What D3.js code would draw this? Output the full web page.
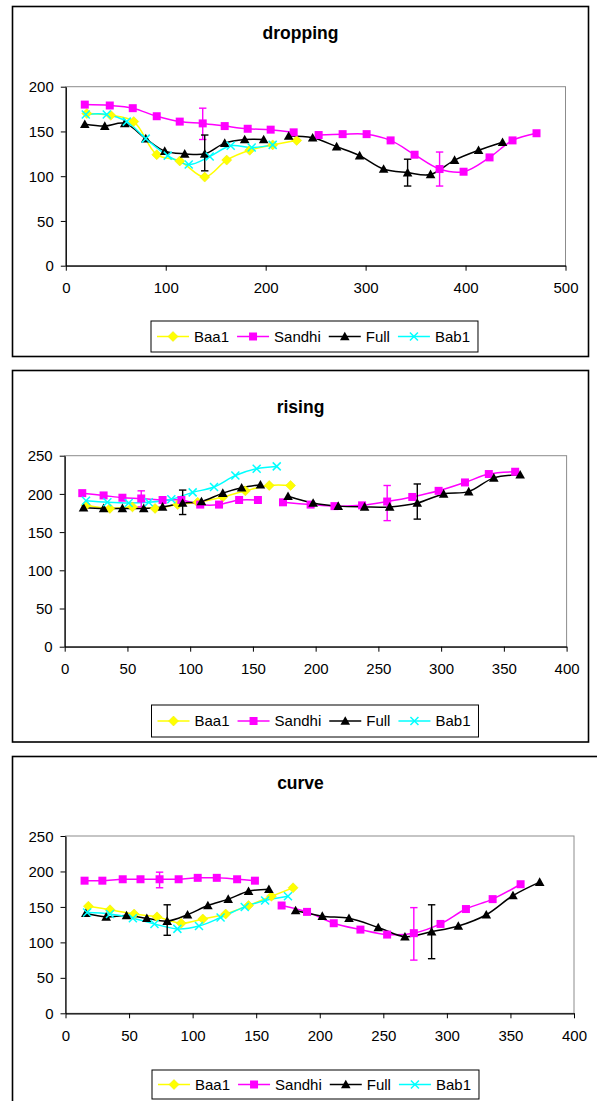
<!DOCTYPE html>
<html>
<head>
<meta charset="utf-8">
<script src="https://cdn.jsdelivr.net/npm/d3@7"></script>
<style>
body { margin: 0; background: #fff; }
svg text { font-family: "Liberation Sans", Arial, sans-serif; fill: #000; }
</style>
</head>
<body>
<svg id="page" width="597" height="1101"></svg>
<script>
// series names, same order in every chart
var seriesNames = ['Baa1', 'Sandhi', 'Full', 'Bab1'];

// ---- dropping ----
var droppingBaa1X = [21, 45, 68, 91, 114, 139, 161, 184, 207, 231];
var droppingBaa1Y = [170, 168, 161, 124, 117, 99, 118, 129, 135, 140];
var droppingSandhiX = [19, 44, 67, 91, 114, 137, 159, 182, 205, 228, 253, 277, 301, 325, 349, 374, 398, 424, 447, 471];
var droppingSandhiY = [180, 179, 176, 167, 161, 159, 156, 153, 152, 149, 146, 147, 147, 140, 124, 108, 105, 121, 140, 148];
var droppingFullX = [19, 39, 59, 80, 99, 119, 139, 159, 179, 198, 223, 247, 271, 294, 318, 342, 365, 389, 413, 437];
var droppingFullY = [158, 156, 159, 142, 128, 125, 125, 137, 141, 141, 145, 143, 133, 123, 108, 104, 102, 118, 129, 138];
var droppingBab1X = [20, 41, 61, 80, 102, 123, 144, 165, 186, 207];
var droppingBab1Y = [169, 169, 161, 142, 123, 113, 122, 134, 132, 135];
// error bars: series, x, low, high
var droppingErrors = [['Sandhi', 137, 141, 176], ['Full', 139, 106, 146], ['Sandhi', 374, 89, 127], ['Full', 342, 89, 119]];

// ---- rising ----
var risingBaa1X = [17, 36, 54, 72, 90, 106, 126, 144, 163, 180];
var risingBaa1Y = [185, 181, 183, 181, 186, 189, 196, 204, 211, 211];
var risingSandhiX = [14, 31, 46, 61, 78, 93, 108, 123, 139, 154, 174, 196, 215, 237, 257, 277, 298, 319, 338, 359];
var risingSandhiY = [201, 198, 195, 194, 192, 192, 186, 186, 192, 192, 189, 186, 184, 185, 190, 196, 204, 215, 226, 229];
var risingFullX = [15, 31, 46, 63, 78, 94, 109, 126, 141, 156, 178, 198, 218, 239, 259, 281, 302, 322, 342, 363];
var risingFullY = [182, 181, 181, 181, 183, 188, 190, 201, 208, 212, 197, 188, 184, 183, 183, 188, 200, 203, 221, 225];
var risingBab1X = [17, 34, 51, 67, 85, 102, 119, 136, 153, 169];
var risingBab1Y = [191, 189, 188, 189, 193, 202, 209, 224, 233, 236];
var risingErrors = [['Sandhi', 61, 183, 204], ['Sandhi', 257, 165, 211], ['Full', 94, 173, 205], ['Full', 281, 167, 213]];

// ---- curve ----
var curveBaa1X = [18, 35, 54, 72, 91, 108, 126, 144, 162, 179];
var curveBaa1Y = [151, 146, 140, 136, 127, 133, 140, 152, 165, 177];
var curveSandhiX = [15, 29, 45, 59, 74, 89, 104, 119, 135, 149, 170, 190, 211, 232, 253, 274, 295, 315, 336, 358];
var curveSandhiY = [187, 187, 189, 189, 189, 189, 191, 191, 189, 187, 152, 143, 127, 118, 111, 113, 126, 147, 161, 182];
var curveFullX = [16, 32, 48, 64, 80, 96, 112, 128, 144, 160, 181, 202, 223, 246, 267, 288, 309, 331, 352, 373];
var curveFullY = [141, 136, 138, 134, 130, 139, 152, 161, 172, 175, 145, 137, 134, 121, 108, 115, 123, 139, 166, 185];
var curveBab1X = [17, 35, 53, 70, 88, 105, 122, 141, 157, 175];
var curveBab1Y = [142, 140, 134, 126, 119, 123, 135, 150, 159, 165];
var curveErrors = [['Sandhi', 74, 177, 199], ['Sandhi', 274, 75, 149], ['Full', 80, 110, 153], ['Full', 288, 77, 153]];

// the long series are two runs of 10 points with a blank between
var RUN = 10;

var colors = { Baa1: '#ffff00', Sandhi: '#ff00ff', Full: '#000000', Bab1: '#00ffff' };
var markers = { Baa1: 'diamond', Sandhi: 'square', Full: 'triangle', Bab1: 'x' };

var charts = [
  { title: 'dropping', titleY: 39, panel: [12.5, 6.5, 576, 350], plot: [65.8, 86.7, 565.5, 265.7],
    xMax: 500, xStep: 100, yMax: 200, yStep: 50, legend: [151, 321, 31],
    data: { Baa1: [droppingBaa1X, droppingBaa1Y], Sandhi: [droppingSandhiX, droppingSandhiY], Full: [droppingFullX, droppingFullY], Bab1: [droppingBab1X, droppingBab1Y] },
    errors: droppingErrors },
  { title: 'rising', titleY: 413, panel: [12.5, 370.5, 576, 371.5], plot: [64.7, 455.7, 566.6, 646.7],
    xMax: 400, xStep: 50, yMax: 250, yStep: 50, legend: [151.5, 705, 32],
    data: { Baa1: [risingBaa1X, risingBaa1Y], Sandhi: [risingSandhiX, risingSandhiY], Full: [risingFullX, risingFullY], Bab1: [risingBab1X, risingBab1Y] },
    errors: risingErrors },
  { title: 'curve', titleY: 789, panel: [12.5, 756.5, 620, 400], plot: [65.5, 836, 574, 1013.3],
    xMax: 400, xStep: 50, yMax: 250, yStep: 50, legend: [152, 1070, 29],
    data: { Baa1: [curveBaa1X, curveBaa1Y], Sandhi: [curveSandhiX, curveSandhiY], Full: [curveFullX, curveFullY], Bab1: [curveBab1X, curveBab1Y] },
    errors: curveErrors }
];

function markerPath(type) {
  if (type == 'square') return 'M-4,-4h8v8h-8z';
  if (type == 'diamond') return 'M0,-5L5,0L0,5L-5,0z';
  if (type == 'triangle') return 'M0,-4.8L4.8,3.8L-4.8,3.8z';
  return 'M-4,-4L4,4M4,-4L-4,4';
}

function drawMarker(g, name, x, y) {
  var p = g.append('path').attr('d', markerPath(markers[name])).attr('transform', 'translate(' + x + ',' + y + ')');
  if (markers[name] == 'x') p.attr('fill', 'none').attr('stroke', colors[name]).attr('stroke-width', 1.5);
  else p.attr('fill', colors[name]).attr('stroke', name == 'Baa1' ? '#e8e800' : 'none').attr('stroke-width', 0.5);
}

var svg = d3.select('#page');

charts.forEach(function(c) {
  var g = svg.append('g');

  // outer frame
  g.append('rect').attr('x', c.panel[0]).attr('y', c.panel[1]).attr('width', c.panel[2]).attr('height', c.panel[3])
    .attr('fill', '#fff').attr('stroke', '#000').attr('stroke-width', 1.6);

  g.append('text').attr('x', 300.5).attr('y', c.titleY).attr('text-anchor', 'middle')
    .style('font-size', '17.5px').style('font-weight', 'bold').text(c.title);

  var x = d3.scaleLinear().domain([0, c.xMax]).range([c.plot[0], c.plot[2]]);
  var y = d3.scaleLinear().domain([0, c.yMax]).range([c.plot[3], c.plot[1]]);

  // plot area border (grey top / right)
  g.append('rect').attr('x', c.plot[0]).attr('y', c.plot[1]).attr('width', c.plot[2] - c.plot[0]).attr('height', c.plot[3] - c.plot[1])
    .attr('fill', 'none').attr('stroke', '#8c8c8c').attr('stroke-width', 1);

  var xAxis = g.append('g').attr('transform', 'translate(0,' + c.plot[3] + ')')
    .call(d3.axisBottom(x).tickValues(d3.range(0, c.xMax + 1, c.xStep)).tickSizeInner(5).tickSizeOuter(0).tickPadding(12));
  var yAxis = g.append('g').attr('transform', 'translate(' + c.plot[0] + ',0)')
    .call(d3.axisLeft(y).tickValues(d3.range(0, c.yMax + 1, c.yStep)).tickSizeInner(5).tickSizeOuter(0).tickPadding(7));
  [xAxis, yAxis].forEach(function(a) {
    a.select('.domain').attr('stroke', '#000').attr('stroke-width', 1.2);
    a.selectAll('.tick line').attr('stroke', '#000').attr('stroke-width', 1);
    a.selectAll('.tick text').style('font-size', '15px').attr('fill', '#000');
  });
  yAxis.selectAll('.tick text').attr('dy', '0.34em');

  var line = d3.line().x(function(d) { return x(d[0]); }).y(function(d) { return y(d[1]); })
    .curve(d3.curveCatmullRom.alpha(0.5));

  seriesNames.forEach(function(name) {
    var xs = c.data[name][0], ys = c.data[name][1];
    var pts = xs.map(function(v, i) { return [v, ys[i]]; });
    for (var s = 0; s < pts.length; s += RUN) {
      g.append('path').datum(pts.slice(s, s + RUN)).attr('d', line)
        .attr('fill', 'none').attr('stroke', colors[name]).attr('stroke-width', 1.5);
    }
  });

  // error bars
  c.errors.forEach(function(e) {
    var ex = x(e[1]);
    var eg = g.append('g').attr('stroke', colors[e[0]]).attr('stroke-width', 1.4);
    eg.append('line').attr('x1', ex).attr('x2', ex).attr('y1', y(e[2])).attr('y2', y(e[3]));
    eg.append('line').attr('x1', ex - 3.7).attr('x2', ex + 3.7).attr('y1', y(e[2])).attr('y2', y(e[2]));
    eg.append('line').attr('x1', ex - 3.7).attr('x2', ex + 3.7).attr('y1', y(e[3])).attr('y2', y(e[3]));
  });

  seriesNames.forEach(function(name) {
    var xs = c.data[name][0], ys = c.data[name][1];
    xs.forEach(function(v, i) { drawMarker(g, name, x(v), y(ys[i])); });
  });

  // legend
  var lg = g.append('g');
  var box = lg.append('rect').attr('x', c.legend[0]).attr('y', c.legend[1]).attr('height', c.legend[2])
    .attr('fill', '#fff').attr('stroke', '#000').attr('stroke-width', 1);
  var cy = c.legend[1] + c.legend[2] / 2;
  var lx = c.legend[0] + 6;
  seriesNames.forEach(function(name) {
    lg.append('line').attr('x1', lx).attr('x2', lx + 32).attr('y1', cy).attr('y2', cy)
      .attr('stroke', colors[name]).attr('stroke-width', 1.5);
    drawMarker(lg, name, lx + 16, cy);
    var t = lg.append('text').attr('x', lx + 37).attr('y', cy).attr('dy', '0.35em').style('font-size', '15px').text(name);
    lx = lx + 37 + t.node().getComputedTextLength() + 8;
  });
  box.attr('width', lx - c.legend[0]);
});
</script>
</body>
</html>
